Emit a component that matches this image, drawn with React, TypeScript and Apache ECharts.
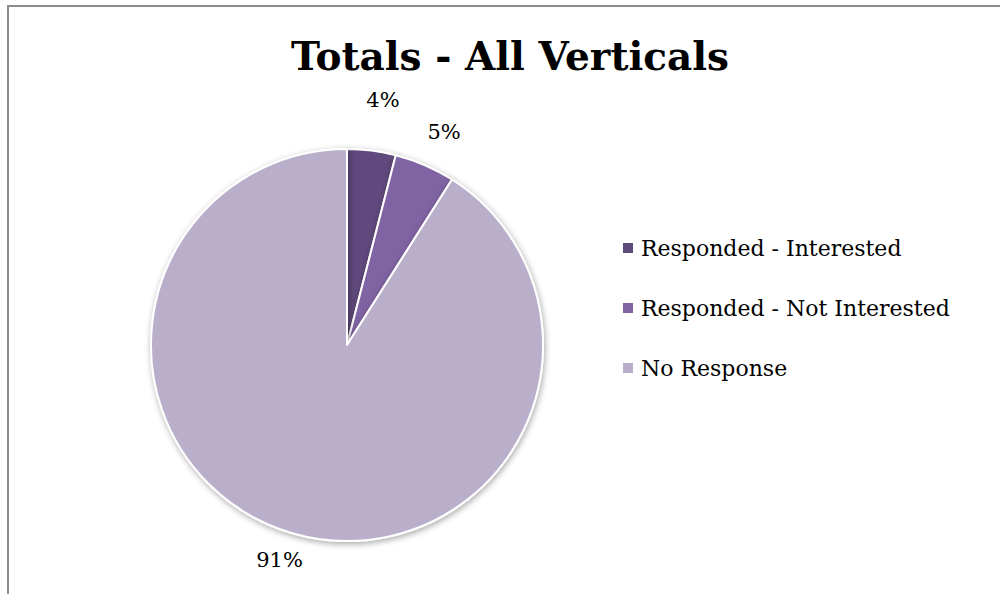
import React, { useEffect, useRef } from "react";
import * as echarts from "echarts";

const title = "Totals - All Verticals";
const categories = ["Responded - Interested", "Responded - Not Interested", "No Response"];
const values = [4, 5, 91];
const colors = ["#604A7B", "#8064A2", "#B9AFCB"];
const labelLengths = [51, 36, 28];

export default function App() {
  const ref = useRef<HTMLDivElement>(null);
  useEffect(() => {
    if (!ref.current) return;
    const chart = echarts.init(ref.current, null, { renderer: "svg" });
    const font = "DejaVu Serif";
    chart.setOption({
      animation: false,
      backgroundColor: "#ffffff",
      title: {
        text: title,
        left: 505,
        textAlign: "center",
        top: 31,
        textStyle: { fontFamily: font, fontWeight: "bold", fontSize: 39, color: "#000" },
      },
      graphic: [
        {
          type: "rect",
          shape: { x: 8, y: 6, width: 1100, height: 700 },
          style: { fill: "none", stroke: "#8c8c8c", lineWidth: 2 },
          silent: true,
        },
      ],
      legend: {
        orient: "vertical",
        left: 616,
        top: 231,
        itemWidth: 12,
        itemHeight: 12,
        itemGap: 36,
        icon: "rect",
        textStyle: { fontFamily: font, fontSize: 22, color: "#000", lineHeight: 24, padding: [0, 0, 0, 2] },
        data: categories,
      },
      series: [
        {
          type: "pie",
          center: [347, 345],
          radius: 196,
          startAngle: 90,
          clockwise: true,
          color: colors,
          itemStyle: {
            borderColor: "#ffffff",
            borderWidth: 2,
            shadowBlur: 6,
            shadowOffsetX: 1,
            shadowOffsetY: 2,
            shadowColor: "rgba(0,0,0,0.35)",
          },
          label: {
            show: true,
            position: "outside",
            formatter: (p: any) => `${Math.round(p.percent)}%`,
            fontFamily: font,
            fontSize: 21,
            color: "#000",
          },
          labelLine: { show: false, length: 30, length2: 0 },
          labelLayout: { align: "center" },
          data: categories.map((name, i) => ({
            name,
            value: values[i],
            labelLine: { length: labelLengths[i], length2: 0 },
          })),
        },
      ],
    });
    return () => chart.dispose();
  }, []);
  return (
    <div
      ref={ref}
      style={{ position: "fixed", left: 0, top: 0, width: 1000, height: 594 }}
    />
  );
}
